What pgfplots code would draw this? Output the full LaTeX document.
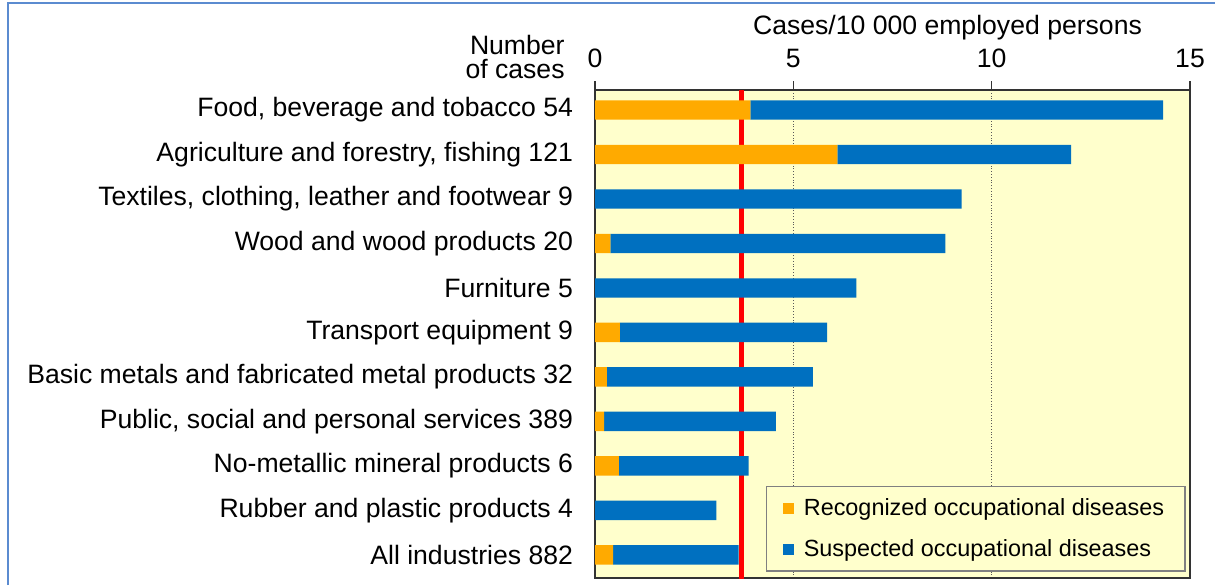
\documentclass[border=0pt]{standalone}
\usepackage{pgfplots}
\pgfplotsset{compat=1.18}
\usepackage{fontspec}
\setmainfont{Liberation Sans}
\definecolor{orgbar}{HTML}{FFAA00}
\definecolor{bluebar}{HTML}{0070C0}
\definecolor{bgyellow}{HTML}{FFFFCC}
\definecolor{framebl}{HTML}{5B8BD0}
\begin{document}
\begin{tikzpicture}[font=\fontsize{13.3}{16}\selectfont]
\path[use as bounding box] (0,0) rectangle (607.5pt,292.5pt);
\draw[framebl, line width=1.2pt] (4pt,0) -- (4pt,291pt) -- (607.5pt,291pt);
\begin{axis}[
  at={(297.5pt,3.5pt)}, anchor=south west,
  scale only axis, width=297.5pt, height=244pt,
  xbar stacked, bar width=9.7pt,
  xmin=0, xmax=15, ymin=-0.52, ymax=10.45,
  xtick={0,5,10,15}, xtick pos=right, xticklabel pos=right,
  tick align=outside, major tick length=4.5pt,
  ytick={0,...,10},
  yticklabels={All industries 882, Rubber and plastic products 4, No-metallic mineral products 6, {Public, social and personal services 389}, Basic metals and fabricated metal products 32, Transport equipment 9, Furniture 5, Wood and wood products 20, {Textiles, clothing, leather and footwear 9}, {Agriculture and forestry, fishing 121}, {Food, beverage and tobacco 54}},
  ytick style={draw=none},
  yticklabel style={xshift=-3pt},
  xticklabel style={yshift=3pt},
  xmajorgrids, grid style={densely dotted, black!65, line width=0.7pt},
  axis background/.style={fill=bgyellow},
  axis line style={black!80, line width=1pt},
  every tick/.style={black!80, line width=0.8pt},
  /pgf/number format/assume math mode=true,
  ticklabel style={font=\fontsize{13.3}{16}\selectfont},
  legend style={at={(0.9933,0.0123)}, anchor=south east, fill=bgyellow, draw=gray, line width=0.8pt,
    row sep=6.3pt, inner xsep=8.5pt, inner ysep=4pt, font=\fontsize{11.7}{14}\selectfont},
  legend cell align=left,
  legend image code/.code={\fill[#1] (0pt,-2.7pt) rectangle (5.4pt,2.7pt); \path (8.2pt,0pt);},
  clip=true,
]
\addplot[fill=orgbar, draw=none] coordinates {
  (0.46,0) (0,1) (0.60,2) (0.23,3) (0.30,4) (0.63,5) (0,6) (0.39,7) (0,8) (6.11,9) (3.92,10)};
\addlegendentry{Recognized occupational diseases}
\addplot[fill=bluebar, draw=none] coordinates {
  (3.16,0) (3.06,1) (3.27,2) (4.33,3) (5.19,4) (5.22,5) (6.59,6) (8.44,7) (9.24,8) (5.89,9) (10.40,10)};
\addlegendentry{Suspected occupational diseases}
\addplot[red, line width=2.5pt, sharp plot, stack plots=false, forget plot] coordinates {(3.7,-0.6) (3.7,10.6)};
\end{axis}
\node[anchor=center, inner sep=0pt] at (473.75pt,278.5pt) {Cases/10~000 employed persons};
\node[anchor=east, align=right, inner sep=0pt, font=\fontsize{13.3}{12}\selectfont] at (282.5pt,264pt) {Number\\of cases};
\end{tikzpicture}
\end{document}
